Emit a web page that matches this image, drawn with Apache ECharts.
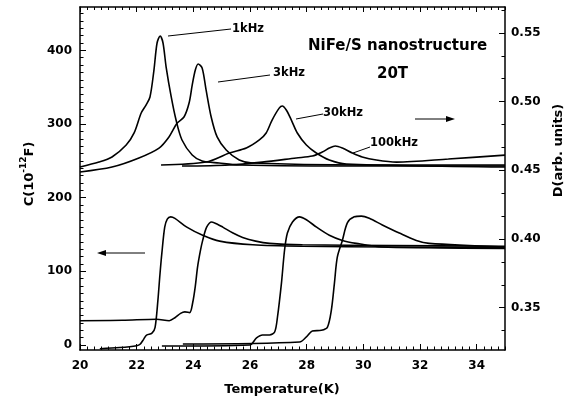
<!DOCTYPE html>
<html>
<head>
<meta charset="utf-8">
<script src="https://cdn.jsdelivr.net/npm/echarts@6/dist/echarts.min.js"></script>
<style>
html, body { margin: 0; padding: 0; background: #fff; }
#chart { width: 573px; height: 402px; }
</style>
</head>
<body>
<div id="chart"></div>
<script>
// tick labels
const xMajor = [20, 22, 24, 26, 28, 30, 32, 34]
const cMajor = [0, 100, 200, 300, 400]
const dMajor = [0.35, 0.40, 0.45, 0.50, 0.55]

// C (left axis) - the step curves
const t1kC = [20.7, 21.4, 22.0, 22.12, 22.25, 22.35, 22.54, 22.65, 22.75, 22.82, 22.89, 22.99, 23.08, 23.2, 23.35, 23.77, 24.33, 24.93, 26.1, 27.85, 31, 35]
const c1k  = [-5, -3.5, -1, 1, 8, 13.5, 16, 24, 61, 95, 125, 160, 171, 174, 172, 160, 149, 141, 136, 134, 133, 132]
const t3kC = [20, 21.5, 22.7, 23.15, 23.35, 23.55, 23.7, 23.87, 23.98, 24.07, 24.15, 24.25, 24.33, 24.47, 24.65, 24.85, 25.04, 25.4, 25.74, 26.2, 26.69, 27.85, 31, 35]
const c3k  = [33, 33.5, 35, 33, 37, 43, 45, 44, 58, 80, 106, 128, 142, 160, 167, 164, 160, 152, 146, 141, 138, 136, 135, 134]
const t30kC = [22.89, 25.99, 26.23, 26.44, 26.69, 26.87, 26.97, 27.11, 27.22, 27.32, 27.5, 27.75, 27.99, 28.35, 28.8, 29.26, 29.75, 30.67, 32.32, 35]
const c30k  = [-1.4, 0, 9.5, 13.6, 13.6, 17.6, 38, 84, 129, 152, 167, 174, 170, 160, 149, 142, 138, 133, 132, 131]
const t100kC = [23.63, 27.75, 27.99, 28.2, 28.52, 28.73, 28.87, 28.98, 29.08, 29.26, 29.44, 29.68, 29.93, 30.21, 30.67, 31.27, 31.87, 32.32, 35]
const c100k  = [1.4, 4, 11, 19, 20, 24, 47, 84, 119, 142, 166, 174, 175, 172, 163, 152, 142, 138, 133]

// D (right axis) - the peak curves
const t1kD = [20, 20.67, 21.13, 21.63, 21.91, 22.16, 22.33, 22.47, 22.61, 22.72, 22.83, 22.93, 23.04, 23.22, 23.39, 23.6, 23.96, 24.31, 24.91, 25.62, 30, 35]
const d1k  = [0.4524, 0.4560, 0.4597, 0.4684, 0.4772, 0.4917, 0.4975, 0.5034, 0.5230, 0.5427, 0.5478, 0.5427, 0.5252, 0.5034, 0.4866, 0.4721, 0.4612, 0.4568, 0.4553, 0.4539, 0.4531, 0.4531]
const t3kD = [20, 21.13, 22.08, 22.79, 23.14, 23.43, 23.67, 23.85, 23.96, 24.07, 24.17, 24.31, 24.45, 24.63, 24.84, 25.16, 25.62, 26.08, 30, 35]
const d3k  = [0.4488, 0.4524, 0.4590, 0.4662, 0.4743, 0.4844, 0.4888, 0.4990, 0.5120, 0.5230, 0.5274, 0.5245, 0.5085, 0.4888, 0.4743, 0.4648, 0.4575, 0.4553, 0.4539, 0.4539]
const t30kD = [22.86, 24.45, 25.27, 25.87, 26.33, 26.57, 26.78, 27.03, 27.14, 27.28, 27.46, 27.67, 27.99, 28.34, 28.8, 29.4, 35]
const d30k  = [0.4539, 0.4560, 0.4626, 0.4662, 0.4721, 0.4772, 0.4866, 0.4953, 0.4968, 0.4939, 0.4866, 0.4772, 0.4684, 0.4626, 0.4575, 0.4546, 0.4524]
const t100kD = [23.6, 25.27, 26.43, 27.63, 28.2, 28.55, 28.8, 29.01, 29.26, 29.61, 29.96, 30.46, 31.17, 33, 35]
const d100k  = [0.4531, 0.4539, 0.4560, 0.4590, 0.4604, 0.4633, 0.4662, 0.4677, 0.4662, 0.4626, 0.4597, 0.4575, 0.4560, 0.4582, 0.4611]

const FONT = '"DejaVu Sans", sans-serif'

// minor ticks
const xMinor = []
for (let i = 0; i <= 60; i++) {
  if (i % 8 !== 0) xMinor.push(20 + i * 0.25)
}
const cMinor = []
for (let v = 10; v <= 450; v += 10) {
  if (v % 100 !== 0) cMinor.push(v)
}
const dMinor = []
for (let k = -1; k <= 13; k++) {
  if (k % 3 !== 0) dMinor.push(+(0.35 + k * 0.05 / 3).toFixed(5))
}

const pairs = (t, v) => t.map((x, i) => [x, v[i]])

const lineSeries = (name, t, v, yIdx) => ({
  name: name,
  type: 'line',
  xAxisIndex: 0,
  yAxisIndex: yIdx,
  data: pairs(t, v),
  showSymbol: false,
  smooth: 0.3,
  lineStyle: { color: '#000', width: 1.6 },
  silent: true
})

// an axis that only draws ticks (used for minor ticks and the top frame)
const tickAxis = (pos, min, max, values, len, extra) => Object.assign({
  type: 'value',
  position: pos,
  min: min,
  max: max,
  axisLine: { show: false, onZero: false },
  axisTick: { show: true, inside: true, length: len, customValues: values, lineStyle: { color: '#000', width: 1 } },
  axisLabel: { show: false },
  splitLine: { show: false }
}, extra || {})

const blackLine = { show: true, onZero: false, lineStyle: { color: '#000', width: 1.5 } }
const labelStyle = { color: '#000', fontFamily: FONT, fontWeight: 'bold', fontSize: 12 }

const X_MIN = 20, X_MAX = 35
const C_MIN = -6.8, C_MAX = 458.9
const D_MIN = 0.3192, D_MAX = 0.5689

const myChart = echarts.init(document.getElementById('chart'))
myChart.setOption({
  animation: false,
  backgroundColor: '#fff',
  grid: { left: 80, right: 67, top: 7, bottom: 52, containLabel: false },
  xAxis: [
    tickAxis('bottom', X_MIN, X_MAX, xMajor, 6, {
      axisLine: blackLine,
      axisLabel: Object.assign({ show: true, customValues: xMajor, margin: 10 }, labelStyle),
      name: 'Temperature(K)',
      nameLocation: 'middle',
      nameGap: 33,
      nameTextStyle: { color: '#000', fontFamily: FONT, fontWeight: 'bold', fontSize: 13, padding: [0, 21, 0, 0] }
    }),
    tickAxis('bottom', X_MIN, X_MAX, xMinor, 3.5),
    tickAxis('top', X_MIN, X_MAX, xMajor, 5, { axisLine: blackLine }),
    tickAxis('top', X_MIN, X_MAX, xMinor, 3)
  ],
  yAxis: [
    tickAxis('left', C_MIN, C_MAX, cMajor, 6, {
      axisLine: blackLine,
      axisLabel: Object.assign({ show: true, customValues: cMajor, margin: 8 }, labelStyle),
      name: '{n|C(10}{s|-12}{n|F)}',
      nameLocation: 'middle',
      nameRotate: 90,
      nameGap: 44,
      nameTextStyle: {
        padding: [0, 0, 0, 9],
        rich: {
          n: { fontFamily: FONT, fontWeight: 'bold', fontSize: 13, color: '#000', lineHeight: 17, verticalAlign: 'bottom' },
          s: { fontFamily: FONT, fontWeight: 'bold', fontSize: 9, color: '#000', lineHeight: 17, verticalAlign: 'top' }
        }
      }
    }),
    tickAxis('left', C_MIN, C_MAX, cMinor, 3.5),
    tickAxis('right', D_MIN, D_MAX, dMajor, 6, {
      axisLine: blackLine,
      axisLabel: Object.assign({ show: true, customValues: dMajor, margin: 6, formatter: (v) => v.toFixed(2) }, labelStyle),
      name: 'D(arb. units)',
      nameLocation: 'middle',
      nameRotate: 90,
      nameGap: 47,
      nameTextStyle: { color: '#000', fontFamily: FONT, fontWeight: 'bold', fontSize: 13, padding: [0, 0, 0, 56] }
    }),
    tickAxis('right', D_MIN, D_MAX, dMinor, 3.5)
  ],
  series: [
    lineSeries('1kHz C', t1kC, c1k, 0),
    lineSeries('3kHz C', t3kC, c3k, 0),
    lineSeries('30kHz C', t30kC, c30k, 0),
    lineSeries('100kHz C', t100kC, c100k, 0),
    lineSeries('1kHz D', t1kD, d1k, 2),
    lineSeries('3kHz D', t3kD, d3k, 2),
    lineSeries('30kHz D', t30kD, d30k, 2),
    lineSeries('100kHz D', t100kD, d100k, 2)
  ],
  graphic: [
    // labels for the curves
    { type: 'line', shape: { x1: 168, y1: 36, x2: 231, y2: 29 }, style: { stroke: '#000', lineWidth: 1 } },
    { type: 'text', x: 232, y: 29, style: { text: '1kHz', font: 'bold 11.5px ' + FONT, fill: '#000', verticalAlign: 'middle' } },
    { type: 'line', shape: { x1: 218, y1: 82, x2: 270, y2: 75 }, style: { stroke: '#000', lineWidth: 1 } },
    { type: 'text', x: 273, y: 73, style: { text: '3kHz', font: 'bold 11.5px ' + FONT, fill: '#000', verticalAlign: 'middle' } },
    { type: 'line', shape: { x1: 296, y1: 119, x2: 323, y2: 114 }, style: { stroke: '#000', lineWidth: 1 } },
    { type: 'text', x: 323, y: 113, style: { text: '30kHz', font: 'bold 11.5px ' + FONT, fill: '#000', verticalAlign: 'middle' } },
    { type: 'line', shape: { x1: 353, y1: 153, x2: 370, y2: 147 }, style: { stroke: '#000', lineWidth: 1 } },
    { type: 'text', x: 370, y: 143, style: { text: '100kHz', font: 'bold 11.5px ' + FONT, fill: '#000', verticalAlign: 'middle' } },
    // sample / field
    { type: 'text', x: 308, y: 46, style: { text: 'NiFe/S nanostructure', font: 'bold 15px ' + FONT, fill: '#000', verticalAlign: 'middle' } },
    { type: 'text', x: 377, y: 74, style: { text: '20T', font: 'bold 15px ' + FONT, fill: '#000', verticalAlign: 'middle' } },
    // arrows pointing to axes
    { type: 'line', shape: { x1: 104, y1: 253, x2: 145, y2: 253 }, style: { stroke: '#000', lineWidth: 1 } },
    { type: 'polygon', shape: { points: [[97, 253], [106, 250], [106, 256]] }, style: { fill: '#000' } },
    { type: 'line', shape: { x1: 415, y1: 119, x2: 448, y2: 119 }, style: { stroke: '#000', lineWidth: 1 } },
    { type: 'polygon', shape: { points: [[455, 119], [446, 116], [446, 122]] }, style: { fill: '#000' } }
  ]
})
</script>
</body>
</html>
